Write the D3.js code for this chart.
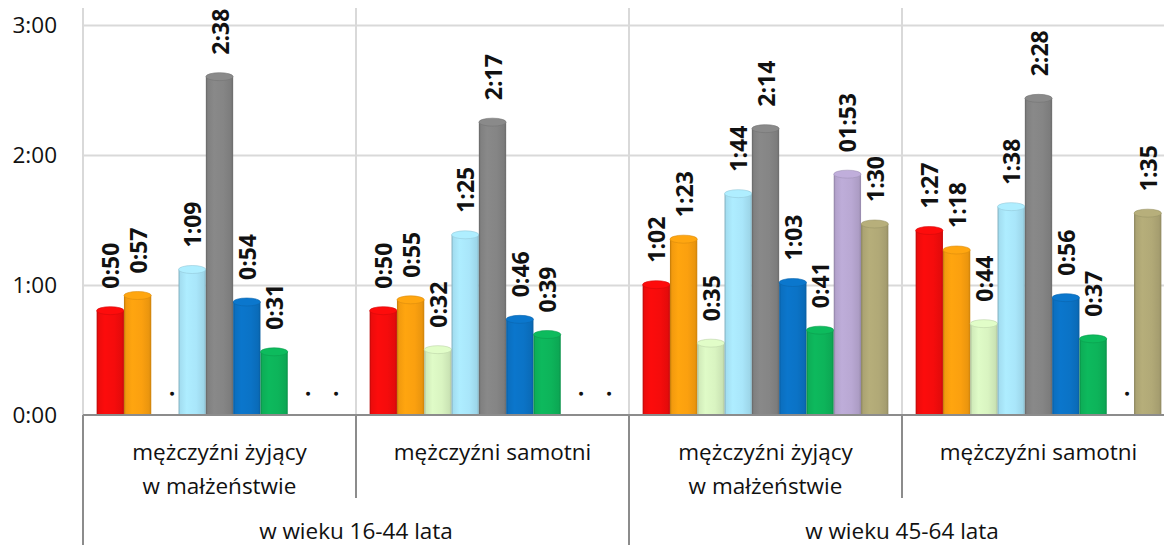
<!DOCTYPE html>
<html>
<head>
<meta charset="utf-8">
<script src="https://cdn.jsdelivr.net/npm/d3@7"></script>
<style>
body { margin: 0; background: #fff; }
svg text { font-family: "Open Sans", sans-serif; fill: #111; }
</style>
</head>
<body>
<div id="chart"></div>
<script>

// categories (two levels)
var groupLabels = [
    ["mężczyźni żyjący", "w małżeństwie"],
    ["mężczyźni samotni"],
    ["mężczyźni żyjący", "w małżeństwie"],
    ["mężczyźni samotni"]
];
var ageLabels = ["w wieku 16-44 lata", "w wieku 45-64 lata"];

// series values as printed on the chart, null = no data (".")
var czerwony    = ["0:50", "0:50", "1:02", "1:27"];
var pomaranczowy= ["0:57", "0:55", "1:23", "1:18"];
var jasnozielony= [null,   "0:32", "0:35", "0:44"];
var blekitny    = ["1:09", "1:25", "1:44", "1:38"];
var szary       = ["2:38", "2:17", "2:14", "2:28"];
var niebieski   = ["0:54", "0:46", "1:03", "0:56"];
var zielony     = ["0:31", "0:39", "0:41", "0:37"];
var fioletowy   = [null,   null,   "01:53", null];
var oliwkowy    = [null,   null,   "1:30", "1:35"];

var seriesData = [czerwony, pomaranczowy, jasnozielony, blekitny, szary, niebieski, zielony, fioletowy, oliwkowy];
var seriesColors = ["#f50c0c", "#fba00f", "#d9f4c1", "#a9e6fa", "#858585", "#0b73c6", "#0db45a", "#b9a8d3", "#b1a977"];

// y ticks in minutes
var yTicks = [0, 60, 120, 180];

var width = 1164, height = 545;
var plot = {left: 83, right: 1175, top: 25, bottom: 415};

function toMinutes(s) {
    if (s === null) return 0;
    var p = s.split(":");
    return (+p[0]) * 60 + (+p[1]);
}

var svg = d3.select("#chart").append("svg")
    .attr("width", width)
    .attr("height", height);

var defs = svg.append("defs");

var x0 = d3.scaleBand()
    .domain(d3.range(groupLabels.length))
    .range([plot.left, plot.right]);

var x1 = d3.scaleBand()
    .domain(d3.range(seriesData.length))
    .range([0, x0.bandwidth()])
    .paddingOuter(0.5);

var y = d3.scaleLinear()
    .domain([0, 180])
    .range([plot.bottom, plot.top]);

// horizontal gridlines
svg.append("g")
    .attr("transform", "translate(" + plot.left + ",0)")
    .call(d3.axisLeft(y).tickValues(yTicks.slice(1)).tickSize(-(plot.right - plot.left)).tickFormat(""))
    .call(function(g) {
        g.select(".domain").remove();
        g.selectAll("line").attr("stroke", "#d9d9d9").attr("stroke-width", 2);
    });

// vertical gridlines between groups
svg.append("g").selectAll("line")
    .data(d3.range(groupLabels.length))
    .enter().append("line")
    .attr("x1", function(d) { return x0(d); })
    .attr("x2", function(d) { return x0(d); })
    .attr("y1", 8)
    .attr("y2", plot.bottom)
    .attr("stroke", "#d9d9d9")
    .attr("stroke-width", 2);

// y axis labels
svg.append("g")
    .attr("transform", "translate(" + plot.left + ",0)")
    .call(d3.axisLeft(y).tickValues(yTicks).tickSize(0).tickPadding(26)
        .tickFormat(function(m) { return Math.floor(m / 60) + ":" + d3.format("02")(m % 60); }))
    .call(function(g) {
        g.select(".domain").remove();
        g.selectAll("text")
            .style("font-size", "22.5px")
            .style("font-family", "'Open Sans', sans-serif")
            .attr("fill", "#111");
    });

// cylinder gradients
seriesColors.forEach(function(c, i) {
    var base = d3.color(c);
    var grad = defs.append("linearGradient")
        .attr("id", "cyl" + i)
        .attr("x1", 0).attr("x2", 1).attr("y1", 0).attr("y2", 0);
    grad.append("stop").attr("offset", "0%").attr("stop-color", base.darker(0.8));
    grad.append("stop").attr("offset", "7%").attr("stop-color", base.darker(0.1));
    grad.append("stop").attr("offset", "30%").attr("stop-color", base.brighter(0.08));
    grad.append("stop").attr("offset", "65%").attr("stop-color", base);
    grad.append("stop").attr("offset", "92%").attr("stop-color", base.darker(0.2));
    grad.append("stop").attr("offset", "100%").attr("stop-color", base.darker(0.6));
});

// bars
var capRy = 4;
var groupsG = svg.append("g").selectAll("g")
    .data(d3.range(groupLabels.length))
    .enter().append("g")
    .attr("transform", function(g) { return "translate(" + x0(g) + ",0)"; });

var cells = groupsG.selectAll("g.cell")
    .data(function(g) {
        return seriesData.map(function(s, i) { return {series: i, text: s[g], value: toMinutes(s[g])}; });
    })
    .enter().append("g")
    .attr("class", "cell");

cells.filter(function(d) { return d.text !== null; })
    .append("rect")
    .attr("x", function(d) { return x1(d.series); })
    .attr("y", function(d) { return y(d.value) + capRy; })
    .attr("width", x1.bandwidth())
    .attr("height", function(d) { return plot.bottom - y(d.value) - capRy; })
    .attr("fill", function(d) { return "url(#cyl" + d.series + ")"; });

cells.filter(function(d) { return d.text !== null; })
    .append("ellipse")
    .attr("cx", function(d) { return x1(d.series) + x1.bandwidth() / 2; })
    .attr("cy", function(d) { return y(d.value) + capRy; })
    .attr("rx", x1.bandwidth() / 2)
    .attr("ry", capRy)
    .attr("fill", function(d) { return d3.color(seriesColors[d.series]).brighter(0.1); })
    .attr("stroke", function(d) { return d3.color(seriesColors[d.series]).darker(0.4); })
    .attr("stroke-width", 0.6);

// data labels
cells.append("text")
    .attr("transform", function(d) {
        return "translate(" + (x1(d.series) + x1.bandwidth() / 2) + "," + (y(d.value) - 18) + ") rotate(-90)";
    })
    .attr("text-anchor", "start")
    .attr("dominant-baseline", "central")
    .style("font-size", "23px")
    .style("font-weight", "bold")
    .text(function(d) { return d.text === null ? "." : d.text; });

// category axis line
svg.append("line")
    .attr("x1", plot.left).attr("x2", plot.right)
    .attr("y1", plot.bottom).attr("y2", plot.bottom)
    .attr("stroke", "#8c8c8c").attr("stroke-width", 2);

// separators: inner level between groups, outer level between age ranges
svg.append("g").selectAll("line")
    .data(d3.range(groupLabels.length + 1))
    .enter().append("line")
    .attr("x1", function(d) { return d < groupLabels.length ? x0(d) : plot.right; })
    .attr("x2", function(d) { return d < groupLabels.length ? x0(d) : plot.right; })
    .attr("y1", plot.bottom)
    .attr("y2", function(d) { return d % 2 === 0 ? height : 498; })
    .attr("stroke", "#8c8c8c")
    .attr("stroke-width", 2);

// group labels
var glab = svg.append("g").selectAll("text")
    .data(groupLabels)
    .enter().append("text")
    .attr("text-anchor", "middle")
    .style("font-size", "22.5px");

glab.selectAll("tspan")
    .data(function(d, i) { return d.map(function(t) { return {t: t, g: i}; }); })
    .enter().append("tspan")
    .attr("x", function(d) { return x0(d.g) + x0.bandwidth() / 2; })
    .attr("y", function(d, j) { return 460 + j * 34; })
    .text(function(d) { return d.t; });

// age labels
svg.append("g").selectAll("text")
    .data(ageLabels)
    .enter().append("text")
    .attr("text-anchor", "middle")
    .attr("x", function(d, i) { return x0(i * 2) + x0.bandwidth(); })
    .attr("y", 539)
    .style("font-size", "22.5px")
    .text(function(d) { return d; });

</script>
</body>
</html>
